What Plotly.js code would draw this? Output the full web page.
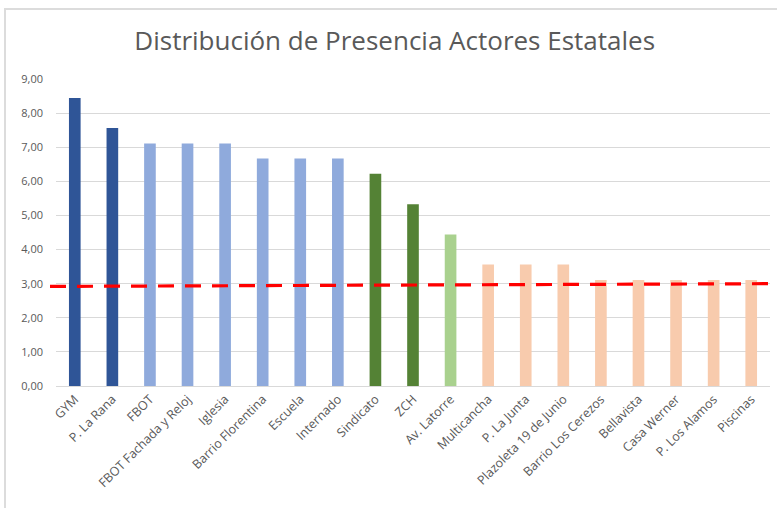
<!DOCTYPE html>
<html>
<head>
<meta charset="utf-8">
<script src="https://cdn.plot.ly/plotly-3.0.1.min.js"></script>
<style>
html,body{margin:0;padding:0;background:#fff;}
#chart{position:absolute;left:0;top:0;width:777px;height:508px;}
#frame{position:absolute;left:4px;top:8px;width:773px;height:500px;border-left:2px solid #dcdcdc;border-top:2px solid #dcdcdc;pointer-events:none;}
</style>
</head>
<body>
<div id="chart"></div>
<div id="frame"></div>
<script>
const categories = ["GYM","P. La Rana","FBOT","FBOT Fachada y Reloj","Iglesia","Barrio Florentina","Escuela","Internado","Sindicato","ZCH","Av. Latorre","Multicancha","P. La Junta","Plazoleta 19 de Junio","Barrio Los Cerezos","Bellavista","Casa Werner","P. Los Alamos","Piscinas"];
const values = [8.44,7.56,7.11,7.11,7.11,6.67,6.67,6.67,6.22,5.33,4.44,3.56,3.56,3.56,3.11,3.11,3.11,3.11,3.11];
const groups = ["A","A","B","B","B","B","B","B","C","C","D","E","E","E","E","E","E","E","E"];
const groupColors = {A:"#2F5597",B:"#8FAADC",C:"#548235",D:"#A9D18E",E:"#F8CBAD"};
const refLineX = [-0.66, 18.5];
const refLineY = [2.92, 3.0];
const yTicks = [0,1,2,3,4,5,6,7,8,9];

const font = "Open Sans, DejaVu Sans, sans-serif";
const grey = "#595959";

const bars = {
  type: "bar",
  x: categories,
  y: values,
  marker: {color: groups.map(g => groupColors[g])},
  xaxis: "x", yaxis: "y",
  hoverinfo: "x+y",
  showlegend: false
};
const line = {
  type: "scatter",
  mode: "lines",
  x: refLineX,
  y: refLineY,
  line: {color: "#FF0000", width: 3.2, dash: "16px,11px"},
  xaxis: "x2", yaxis: "y2",
  showlegend: false,
  hoverinfo: "skip"
};

const layout = {
  width: 777, height: 508,
  margin: {l: 50, r: 7, t: 79, b: 122},
  paper_bgcolor: "#ffffff",
  plot_bgcolor: "rgba(0,0,0,0)",
  separators: ",.",
  font: {family: font, color: grey, size: 11},
  title: {text: "Distribución de Presencia Actores Estatales", font: {family: font, size: 26, color: grey}, x: 0.508, xanchor: "center", y: 0.92, yanchor: "middle", yref: "container", xref: "container"},
  bargap: 0.69,
  xaxis: {
    domain: [6/720, 1],
    type: "category",
    tickangle: -45,
    tickfont: {family: font, size: 12.5, color: grey},
    showgrid: false,
    showline: true, linecolor: "#d9d9d9", linewidth: 1,
    ticks: "",
    fixedrange: true
  },
  yaxis: {
    range: [0, 9],
    tickvals: yTicks,
    tickformat: ".2f",
    showgrid: true, gridcolor: "#d9d9d9", gridwidth: 1,
    zeroline: false, showline: false,
    ticks: "",
    ticklabelstandoff: 12,
    tickfont: {family: font, size: 11, color: grey},
    fixedrange: true
  },
  xaxis2: {
    domain: [0, 1],
    range: [-0.66, 18.5],
    anchor: "y2",
    visible: false,
    showgrid: false, zeroline: false
  },
  yaxis2: {
    range: [0, 9],
    anchor: "x2",
    visible: false,
    showgrid: false, zeroline: false
  }
};

Plotly.newPlot("chart", [bars, line], layout, {displayModeBar: false, staticPlot: true});
</script>
</body>
</html>
